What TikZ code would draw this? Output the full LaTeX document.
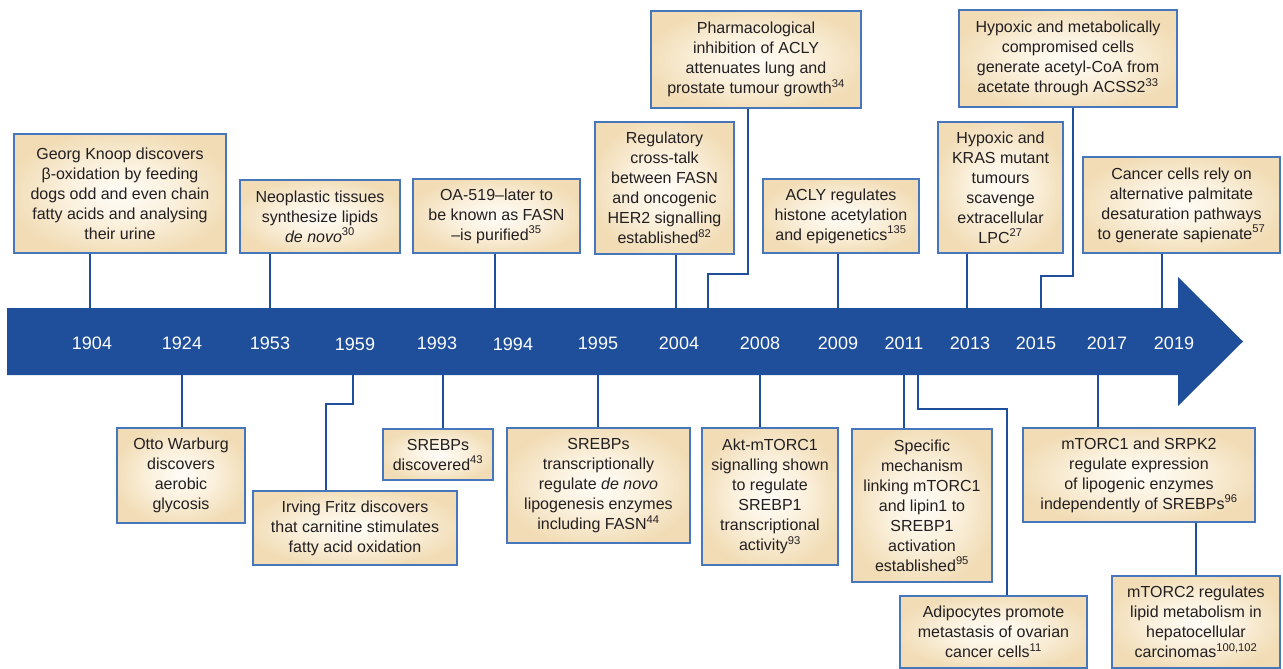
\documentclass[tikz,border=0pt]{standalone}
\usepackage{fontspec}
\setmainfont{Liberation Sans}
\definecolor{bandblue}{HTML}{1F4F9B}
\definecolor{boxline}{HTML}{4677BD}
\definecolor{boxin}{HTML}{FFFDF8}
\definecolor{boxmid}{HTML}{FAEFDA}
\definecolor{boxout}{HTML}{F1DCB5}
\definecolor{inkgray}{HTML}{231F20}
\pgfdeclareradialshading{cream}{\pgfpoint{0bp}{0bp}}{color(0bp)=(boxin); color(14bp)=(boxmid); color(27bp)=(boxout); color(50bp)=(boxout)}
\begin{document}
\begin{tikzpicture}[x=1pt, y=-1pt,
    event/.style={rectangle, draw=boxline, line width=1.6pt, shading=cream, align=center, text=inkgray, font=\fontsize{16}{20}\selectfont, inner sep=0pt},
    link/.style={draw=bandblue, line width=2.6pt},
    year/.style={text=white, font=\fontsize{18}{20}\selectfont}
]
\useasboundingbox (0,0) rectangle (1283,669);

\fill[bandblue] (7,308) -- (1178,308) -- (1178,277) -- (1243,341.5) -- (1178,406) -- (1178,375) -- (7,375) -- cycle;

\node[year] (y1904) at (92,343) {1904};
\node[year] (y1924) at (182,343) {1924};
\node[year] (y1953) at (270,343) {1953};
\node[year] (y1959) at (355,344) {1959};
\node[year] (y1993) at (437,343) {1993};
\node[year] (y1994) at (513,344) {1994};
\node[year] (y1995) at (598,343) {1995};
\node[year] (y2004) at (679,343) {2004};
\node[year] (y2008) at (760,343) {2008};
\node[year] (y2009) at (838,343) {2009};
\node[year] (y2011) at (904,343) {2011};
\node[year] (y2013) at (970,343) {2013};
\node[year] (y2015) at (1036,343) {2015};
\node[year] (y2017) at (1107,343) {2017};
\node[year] (y2019) at (1174,343) {2019};

\node[event, minimum width=212pt, minimum height=119pt] (knoop) at (120,193.5) {Georg Knoop discovers\\β-oxidation by feeding\\dogs odd and even chain\\fatty acids and analysing\\their urine};
\node[event, minimum width=160pt, minimum height=73pt] (neo) at (320,216.5) {Neoplastic tissues\\synthesize lipids\\\textit{de novo}\textsuperscript{30}};
\node[event, minimum width=167pt, minimum height=74pt] (oa) at (496.5,216) {OA-519–later to\\be known as FASN\\–is purified\textsuperscript{35}};
\node[event, minimum width=139pt, minimum height=132pt] (cross) at (664.5,188) {Regulatory\\cross-talk\\between FASN\\and oncogenic\\HER2 signalling\\established\textsuperscript{82}};
\node[event, minimum width=210pt, minimum height=97pt] (pharma) at (756,59.5) {Pharmacological\\inhibition of ACLY\\attenuates lung and\\prostate tumour growth\textsuperscript{34}};
\node[event, minimum width=156pt, minimum height=74pt] (acly) at (841,216) {ACLY regulates\\histone acetylation\\and epigenetics\textsuperscript{135}};
\node[event, minimum width=125pt, minimum height=131pt] (kras) at (1000.5,187.5) {Hypoxic and\\KRAS mutant\\tumours\\scavenge\\extracellular\\LPC\textsuperscript{27}};
\node[event, minimum width=218pt, minimum height=97pt] (acss) at (1068,58.5) {Hypoxic and metabolically\\compromised cells\\generate acetyl-CoA from\\acetate through ACSS2\textsuperscript{33}};
\node[event, minimum width=197pt, minimum height=96pt] (palm) at (1181.5,205) {Cancer cells rely on\\alternative palmitate\\desaturation pathways\\to generate sapienate\textsuperscript{57}};

\node[event, minimum width=128pt, minimum height=95pt] (warburg) at (181,475.5) {Otto Warburg\\discovers\\aerobic\\glycosis};
\node[event, minimum width=204pt, minimum height=74pt] (fritz) at (355,528) {Irving Fritz discovers\\that carnitine stimulates\\fatty acid oxidation};
\node[event, minimum width=110pt, minimum height=51pt] (srebp) at (438,454.5) {SREBPs\\discovered\textsuperscript{43}};
\node[event, minimum width=183pt, minimum height=115pt] (lipo) at (598.5,485.5) {SREBPs\\transcriptionally\\regulate \textit{de novo}\\lipogenesis enzymes\\including FASN\textsuperscript{44}};
\node[event, minimum width=136pt, minimum height=137pt] (akt) at (770,496.5) {Akt-mTORC1\\signalling shown\\to regulate\\SREBP1\\transcriptional\\activity\textsuperscript{93}};
\node[event, minimum width=140pt, minimum height=153pt] (lipin) at (922,505.5) {Specific\\mechanism\\linking mTORC1\\and lipin1 to\\SREBP1\\activation\\established\textsuperscript{95}};
\node[event, minimum width=187pt, minimum height=72pt] (adipo) at (993.5,632) {Adipocytes promote\\metastasis of ovarian\\cancer cells\textsuperscript{11}};
\node[event, minimum width=232pt, minimum height=94pt] (srpk) at (1139,475) {mTORC1 and SRPK2\\regulate expression\\of lipogenic enzymes\\independently of SREBPs\textsuperscript{96}};
\node[event, minimum width=168pt, minimum height=92pt] (mtorc) at (1196,622) {mTORC2 regulates\\lipid metabolism in\\hepatocellular\\carcinomas\textsuperscript{100,102}};

\coordinate (u1904) at (90,308);
\coordinate (u1953) at (270,308);
\coordinate (u1994) at (495,308);
\coordinate (u2004) at (676,308);
\coordinate (u2004b) at (708,308);
\coordinate (k2004) at (748,274);
\coordinate (u2009) at (838,308);
\coordinate (u2013) at (967,308);
\coordinate (u2015) at (1041,308);
\coordinate (k2015) at (1073,276);
\coordinate (u2019) at (1162,308);

\draw[link] (knoop.south -| u1904) -- (u1904);
\draw[link] (neo.south -| u1953) -- (u1953);
\draw[link] (oa.south -| u1994) -- (u1994);
\draw[link] (cross.south -| u2004) -- (u2004);
\draw[link] (pharma.south -| k2004) -- (k2004) -| (u2004b);
\draw[link] (acly.south -| u2009) -- (u2009);
\draw[link] (kras.south -| u2013) -- (u2013);
\draw[link] (acss.south -| k2015) -- (k2015) -| (u2015);
\draw[link] (palm.south -| u2019) -- (u2019);

\coordinate (d1924) at (182,375);
\coordinate (d1959) at (353,375);
\coordinate (k1959) at (326,404);
\coordinate (d1993) at (443,375);
\coordinate (d1995) at (598,375);
\coordinate (d2008) at (760,375);
\coordinate (d2011) at (904,375);
\coordinate (d2011b) at (918,375);
\coordinate (k2011) at (1007,409);
\coordinate (d2017) at (1098,375);

\draw[link] (d1924) -- (d1924 |- warburg.north);
\draw[link] (d1959) |- (k1959) -- (k1959 |- fritz.north);
\draw[link] (d1993) -- (d1993 |- srebp.north);
\draw[link] (d1995) -- (d1995 |- lipo.north);
\draw[link] (d2008) -- (d2008 |- akt.north);
\draw[link] (d2011) -- (d2011 |- lipin.north);
\draw[link] (d2011b) |- (k2011) -- (k2011 |- adipo.north);
\draw[link] (d2017) -- (d2017 |- srpk.north);
\draw[link] (mtorc.north) -- (mtorc.north |- srpk.south);
\end{tikzpicture}
\end{document}
